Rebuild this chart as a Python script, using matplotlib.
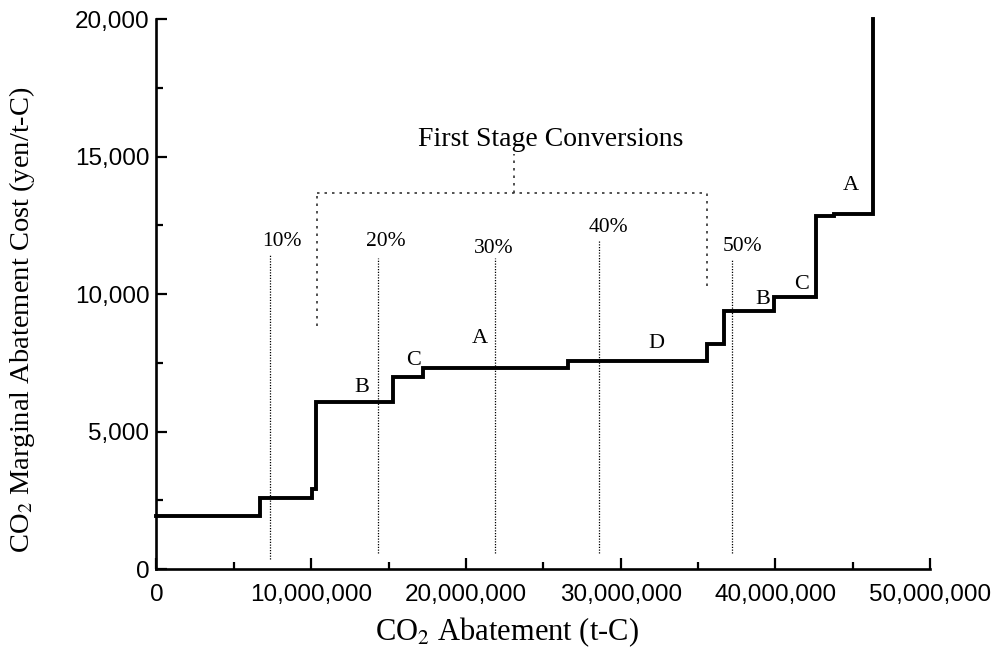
import matplotlib
matplotlib.use("Agg")
import matplotlib.pyplot as plt
from matplotlib.ticker import FuncFormatter, MultipleLocator

plt.rcParams.update({
    "font.family": "Liberation Sans",
    "mathtext.fontset": "stix",
    "xtick.direction": "in",
    "ytick.direction": "in",
})

# marginal abatement cost curve (step edges in t-C, cost in yen/t-C)
abatement_edges = [0, 6.72e6, 10.08e6, 10.34e6, 15.3e6, 17.2e6, 26.6e6,
                   35.6e6, 36.7e6, 39.9e6, 42.6e6, 43.8e6, 46.3e6]
step_costs = [1920, 2570, 2900, 6060, 7000, 7330, 7570,
              8190, 9390, 9890, 12830, 12930]
cost_cap = 20000

# share of abatement reached
share_labels = ["10%", "20%", "30%", "40%", "50%"]
share_x = [7.37e6, 14.3e6, 21.85e6, 28.6e6, 37.2e6]
share_line_bottom = [360, 580, 580, 580, 580]
share_line_top = [11450, 11300, 11300, 11920, 11230]
share_label_y = [11920, 11920, 11670, 12430, 11740]
share_label_x = [8.14e6, 14.8e6, 21.8e6, 29.2e6, 37.9e6]

# option letters along the curve
option_labels = ["B", "C", "A", "D", "B", "C", "A"]
option_x = [13.25e6, 16.6e6, 20.9e6, 32.3e6, 39.2e6, 41.7e6, 44.9e6]
option_y = [6590, 7570, 8370, 8220, 9820, 10360, 13950]

# first stage bracket
bracket_x = [10.4e6, 35.55e6]
bracket_y = 13660
bracket_ends = [8840, 10290]
stem_x = 23.1e6
stem_top = 15100

fig = plt.figure(figsize=(9.96, 6.58), dpi=100)
ax = fig.add_axes([0.157, 0.135, 0.777, 0.836])

ax.step(abatement_edges, step_costs + [cost_cap], where="post",
        color="black", lw=2.8, solid_joinstyle="miter", clip_on=False, zorder=3)

for x, lo, hi in zip(share_x, share_line_bottom, share_line_top):
    ax.plot([x, x], [lo, hi], color="black", lw=0.9, ls=(0, (1, 1.2)))
for lab, x, y in zip(share_labels, share_label_x, share_label_y):
    ax.text(x, y, lab, ha="center", va="center", family="Liberation Serif", fontsize=15.5)

for lab, x, y in zip(option_labels, option_x, option_y):
    ax.text(x, y, lab, ha="center", va="center", family="Liberation Serif", fontsize=16)

dot = dict(color="#333333", lw=1.2, ls=(0, (1.5, 3)))
ax.plot(bracket_x, [bracket_y, bracket_y], **dot)
ax.plot([bracket_x[0], bracket_x[0]], [bracket_ends[0], bracket_y], **dot)
ax.plot([bracket_x[1], bracket_x[1]], [bracket_ends[1], bracket_y], **dot)
ax.plot([stem_x, stem_x], [bracket_y, stem_top], **dot)
ax.text(25.5e6, 15620, "First Stage Conversions", ha="center", va="center",
        family="Liberation Serif", fontsize=20)

ax.set_xlim(0, 50e6)
ax.set_ylim(0, 20000)
ax.xaxis.set_major_locator(MultipleLocator(10e6))
ax.xaxis.set_minor_locator(MultipleLocator(5e6))
ax.yaxis.set_major_locator(MultipleLocator(5000))
ax.yaxis.set_minor_locator(MultipleLocator(2500))
ax.xaxis.set_major_formatter(FuncFormatter(lambda v, p: f"{v:,.0f}"))
ax.yaxis.set_major_formatter(FuncFormatter(lambda v, p: f"{v:,.0f}"))
ax.tick_params(which="major", length=8, width=1.6, labelsize=17.5)
ax.tick_params(which="minor", length=5, width=1.6)
ax.tick_params(axis="x", which="major", pad=11)
ax.tick_params(axis="y", which="major", pad=5)

for side in ["top", "right"]:
    ax.spines[side].set_visible(False)
for side in ["left", "bottom"]:
    ax.spines[side].set_linewidth(1.9)

ax.set_xlabel("CO$_2$ Abatement (t-C)", family="Liberation Serif", fontsize=22,
              va="center")
ax.set_ylabel("CO$_2$ Marginal Abatement Cost (yen/t-C)", family="Liberation Serif",
              fontsize=20.5, va="center")
ax.xaxis.set_label_coords(0.4535, -0.115)
ax.yaxis.set_label_coords(-0.173, 0.453)

fig.savefig("out.png", dpi=100)
